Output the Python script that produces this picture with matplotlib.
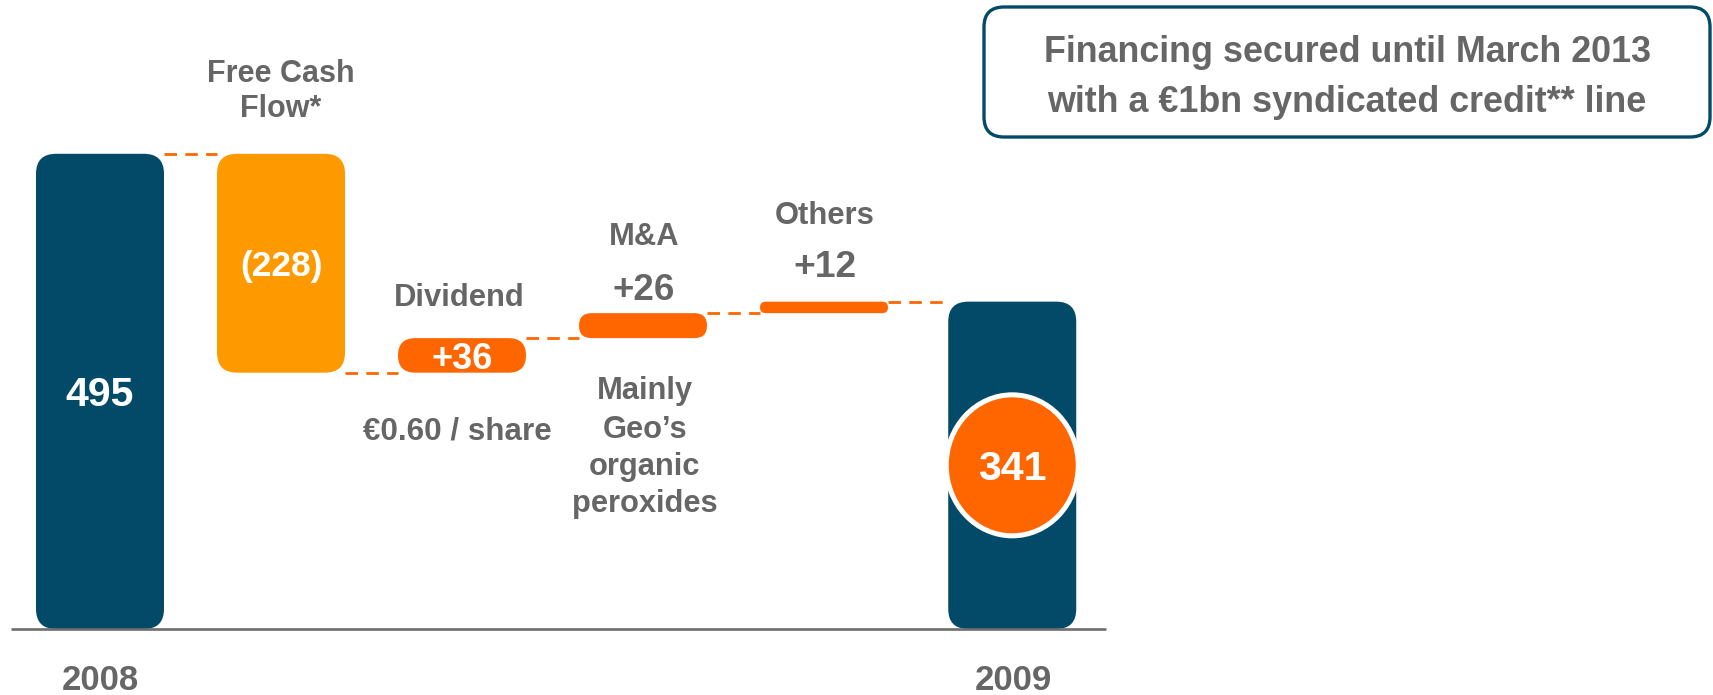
import matplotlib
matplotlib.use('Agg')
import matplotlib.pyplot as plt
from matplotlib.patches import FancyBboxPatch, Ellipse

plt.rcParams['font.family'] = ['Liberation Sans', 'DejaVu Sans']
plt.rcParams['font.weight'] = 'bold'

# Net debt bridge 2008 -> 2009 (EUR m)
categories = ['2008', 'Free Cash Flow*', 'Dividend', 'M&A', 'Others', '2009']
values = [495, -228, 36, 26, 12, 341]
is_total = [True, False, False, False, False, True]
value_labels = ['495', '(228)', '+36', '+26', '+12', '341']
year_labels = ['2008', '2009']

NAVY = '#034A69'
AMBER = '#FF9900'
ORANGE = '#FF6600'
GREY = '#666666'
bar_colors = [NAVY, AMBER, ORANGE, ORANGE, ORANGE, NAVY]

W, H = 1713, 695
fig = plt.figure(figsize=(W / 100, H / 100), dpi=100)
ax = fig.add_axes([0, 0, 1, 1])
ax.axis('off')

# axes set so 1 category step = 181 px and 1 unit = 0.96 px
PX_X, PX_Y = 181.0, 0.96
ax.set_xlim(-100 / PX_X, (W - 100) / PX_X)
ax.set_ylim((629 - H) / PX_Y, 629 / PX_Y)
xpos = [0, 1, 2, 3, 4, 5.04]
bw = 128 / PX_X
aspect = PX_X / PX_Y


def fx(px):
    return px / W


def fy(py):
    return 1 - py / H


# waterfall geometry
bottoms, heights, levels = [], [], []
running = 0
for v, tot in zip(values, is_total):
    if tot:
        bottoms.append(0)
        heights.append(v)
        running = v
    else:
        start = running
        running += v
        bottoms.append(min(start, running))
        heights.append(abs(v))
    levels.append(running)

for x, b, h, c in zip(xpos, bottoms, heights, bar_colors):
    r_px = min(20, h * PX_Y / 2)
    patch = FancyBboxPatch((x - bw / 2, b), bw, h,
                           boxstyle=f'round,pad=0,rounding_size={r_px / PX_X}',
                           mutation_aspect=aspect, fc=c, ec='none', zorder=3)
    ax.add_patch(patch)

# dashed connectors
for i in range(len(values) - 1):
    ax.plot([xpos[i] + bw / 2, xpos[i + 1] - bw / 2], [levels[i], levels[i]],
            color=ORANGE, lw=2, linestyle=(0, (4.5, 3)), zorder=2)

# baseline
ax.hlines(0, -0.49, 5.56, color='#6E6E6E', lw=1.9, zorder=4)

# closing value in a circle
ax.add_patch(Ellipse((xpos[5], values[5] / 2), 132 / PX_X, 141 / PX_Y,
                     fc=ORANGE, ec='white', lw=3.6, zorder=5))

# values inside bars
ax.text(xpos[0], bottoms[0] + heights[0] / 2, value_labels[0], color='white', fontsize=29.5,
        ha='center', va='center_baseline', zorder=6)
ax.text(xpos[1], bottoms[1] + heights[1] / 2, value_labels[1], color='white', fontsize=25.5,
        ha='center', va='center_baseline', zorder=6)
ax.text(xpos[2], bottoms[2] + heights[2] / 2, value_labels[2], color='white', fontsize=26,
        ha='center', va='center_baseline', zorder=6)
ax.text(xpos[5], values[5] / 2, value_labels[5], color='white', fontsize=29.5,
        ha='center', va='center_baseline', zorder=6)

# labels above / below
fig.text(fx(281), fy(82), 'Free Cash', color=GREY, fontsize=22, ha='center', va='baseline')
fig.text(fx(281), fy(117), 'Flow*', color=GREY, fontsize=22, ha='center', va='baseline')
fig.text(fx(459), fy(306), categories[2], color=GREY, fontsize=22.3, ha='center', va='baseline')
fig.text(fx(457), fy(439), '€0.60 / share', color=GREY, fontsize=22.6, ha='center', va='baseline')
fig.text(fx(644), fy(245), categories[3], color=GREY, fontsize=22.2, ha='center', va='baseline')
fig.text(fx(644), fy(300), value_labels[3], color=GREY, fontsize=26.5, ha='center', va='baseline')
fig.text(fx(825), fy(224), categories[4], color=GREY, fontsize=22.3, ha='center', va='baseline')
fig.text(fx(825), fy(277), value_labels[4], color=GREY, fontsize=26.8, ha='center', va='baseline')
for line, py in zip(['Mainly', 'Geo’s', 'organic', 'peroxides'], [399, 438, 475, 512]):
    fig.text(fx(645), fy(py), line, color=GREY, fontsize=22.2, ha='center', va='baseline')

fig.text(fx(100), fy(690), year_labels[0], color=GREY, fontsize=25, ha='center', va='baseline')
fig.text(fx(1013), fy(690), year_labels[1], color=GREY, fontsize=25, ha='center', va='baseline')

# callout box
box = FancyBboxPatch((fx(984), fy(137)), (1710 - 984) / W, (137 - 7) / H,
                     boxstyle=f'round,pad=0,rounding_size={20 / W}',
                     mutation_aspect=W / H, fc='white', ec=NAVY, lw=2.4,
                     transform=fig.transFigure)
fig.add_artist(box)
fig.text(fx(1347), fy(62), 'Financing secured until March 2013', color=GREY, fontsize=25.8,
         ha='center', va='baseline')
fig.text(fx(1347), fy(112), 'with a €1bn syndicated credit** line', color=GREY, fontsize=25.8,
         ha='center', va='baseline')

fig.savefig('out.png', dpi=100)
